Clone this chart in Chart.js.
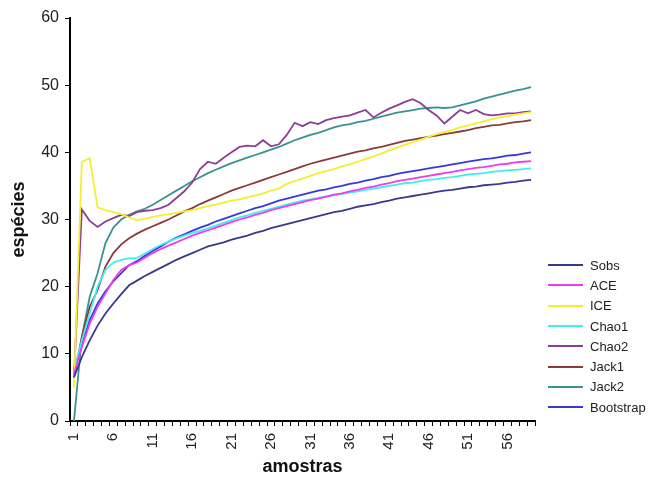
<!DOCTYPE html>
<html>
<head>
<meta charset="utf-8">
<script src="https://cdn.jsdelivr.net/npm/chart.js@4/dist/chart.umd.min.js"></script>
<style>
  body { margin: 0; background: #fff; }
  #wrap { position: relative; width: 660px; height: 479px; }
  #legenda { position: absolute; left: 548px; top: 255px; font: 13px "Liberation Sans", Arial, sans-serif; color: #222; }
  #legenda div { height: 20.3px; display: flex; align-items: center; }
  #legenda span.l { display: inline-block; width: 35px; height: 2px; margin-right: 7px; }
</style>
</head>
<body>
<div id="wrap">
  <canvas id="myChart" width="660" height="479"></canvas>
  <div id="legenda"></div>
</div>
<script>
const ctx = document.getElementById('myChart');
const fonte = '"Liberation Sans", Arial, sans-serif';

// amostras 1..59, rotulo a cada 5
const amostras = Array.from({ length: 59 }, (_, i) => String(i + 1));
const rotulos = ['1', '6', '11', '16', '21', '26', '31', '36', '41', '46', '51', '56'];
const ticksY = [0, 10, 20, 30, 40, 50, 60];

const nomes = ['Sobs', 'ACE', 'ICE', 'Chao1', 'Chao2', 'Jack1', 'Jack2', 'Bootstrap'];
const cores = ['#3a3a8c', '#f03cf0', '#f5ee30', '#40eef0', '#8e3d94', '#8b3a3a', '#3a9290', '#3838d8'];

const sobs = [6.5,9.5,12,14.2,16,17.5,18.9,20.2,20.9,21.6,
  22.2,22.8,23.4,24,24.5,25,25.5,26,26.3,26.6,
  27,27.3,27.6,28,28.3,28.7,29,29.3,29.6,29.9,
  30.2,30.5,30.8,31.1,31.3,31.6,31.9,32.1,32.3,32.6,
  32.8,33.1,33.3,33.5,33.7,33.9,34.1,34.3,34.4,34.6,
  34.8,34.9,35.1,35.2,35.3,35.5,35.6,35.8,35.9];
const ace = [7,11,14.5,17,19,21,22.5,23.2,23.6,24.3,
  25,25.6,26.1,26.6,27.1,27.6,28,28.4,28.8,29.2,
  29.6,30,30.3,30.7,31,31.4,31.7,32,32.3,32.6,
  32.9,33.1,33.4,33.7,33.9,34.2,34.4,34.7,34.9,35.2,
  35.4,35.7,35.9,36.1,36.3,36.5,36.7,36.9,37.1,37.3,
  37.5,37.7,37.8,38,38.2,38.3,38.5,38.6,38.7];
const ice = [5,38.6,39.1,31.8,31.4,31.1,30.8,30.3,29.9,30.1,
  30.4,30.6,30.8,31,31.2,31.4,31.7,32,32.2,32.5,
  32.8,33,33.3,33.6,33.9,34.3,34.6,35.3,35.7,36.1,
  36.5,36.9,37.2,37.5,37.9,38.2,38.6,39,39.4,39.8,
  40.3,40.7,41.1,41.5,41.9,42.3,42.7,43,43.3,43.7,
  44,44.3,44.6,44.9,45.2,45.4,45.6,45.8,46];
const chao1 = [7.5,12,16,20,22.5,23.6,24,24.2,24.3,24.9,
  25.6,26.2,26.7,27.2,27.6,28,28.3,28.7,29.1,29.5,
  29.9,30.3,30.6,31,31.3,31.6,31.9,32.2,32.5,32.8,
  33,33.2,33.4,33.6,33.8,34,34.2,34.4,34.6,34.8,
  35,35.2,35.4,35.5,35.7,35.9,36,36.2,36.3,36.5,
  36.7,36.8,36.9,37.1,37.2,37.3,37.4,37.5,37.6];
const chao2 = [6.5,31.5,29.8,28.9,29.7,30.2,30.7,30.5,31.1,31.3,
  31.4,31.7,32.2,33.2,34.2,35.5,37.5,38.6,38.3,39.2,
  40,40.8,41,40.9,41.8,40.9,41.2,42.6,44.4,43.9,
  44.5,44.2,44.8,45.1,45.3,45.5,45.9,46.3,45.2,45.9,
  46.5,47,47.5,47.9,47.3,46.3,45.5,44.3,45.3,46.3,
  45.8,46.3,45.7,45.5,45.6,45.8,45.8,46,46.1];
const jack1 = [6.5,12.5,17,19.5,23,25,26.3,27.2,27.9,28.5,
  29,29.5,30,30.6,31.2,31.7,32.3,32.8,33.3,33.8,
  34.3,34.7,35.1,35.5,35.9,36.3,36.7,37.1,37.5,37.9,
  38.3,38.6,38.9,39.2,39.5,39.8,40.1,40.3,40.6,40.8,
  41.1,41.4,41.7,41.9,42.1,42.3,42.5,42.7,42.9,43.1,
  43.3,43.6,43.8,44,44.1,44.3,44.5,44.6,44.8];
const jack2 = [0,12.5,18.5,22,26.5,28.8,30,30.7,31.2,31.6,
  32.2,32.9,33.6,34.3,35,35.7,36.3,36.9,37.4,37.9,
  38.4,38.8,39.2,39.6,40,40.4,40.8,41.3,41.8,42.2,
  42.6,42.9,43.3,43.7,44,44.2,44.5,44.7,45,45.3,
  45.6,45.9,46.1,46.3,46.5,46.6,46.7,46.6,46.7,47,
  47.3,47.6,48,48.3,48.6,48.9,49.2,49.4,49.7];
const bootstrap = [7.5,11.5,15,17.5,19.3,20.8,22,23.2,23.8,24.6,
  25.3,26,26.7,27.3,27.8,28.3,28.8,29.2,29.7,30.1,
  30.5,30.9,31.3,31.7,32,32.4,32.8,33.1,33.4,33.7,
  34,34.3,34.5,34.8,35,35.3,35.5,35.8,36,36.3,
  36.5,36.8,37,37.2,37.4,37.6,37.8,38,38.2,38.4,
  38.6,38.8,39,39.1,39.3,39.5,39.6,39.8,40];

const series = [sobs, ace, ice, chao1, chao2, jack1, jack2, bootstrap];

const datasets = nomes.map((nome, i) => ({
  label: nome,
  data: series[i],
  borderColor: cores[i],
  backgroundColor: cores[i],
  borderWidth: 1.8,
  pointRadius: 0,
  tension: 0,
  fill: false
}));

// legenda em html
const leg = document.getElementById('legenda');
nomes.forEach((nome, i) => {
  const d = document.createElement('div');
  d.innerHTML = '<span class="l" style="background:' + cores[i] + '"></span>' + nome;
  leg.appendChild(d);
});

new Chart(ctx, {
  type: 'line',
  data: { labels: amostras, datasets: datasets },
  options: {
    responsive: false,
    animation: false,
    layout: { padding: { left: 8, right: 125, top: 18, bottom: 0 } },
    plugins: { legend: { display: false }, tooltip: { enabled: false } },
    scales: {
      x: {
        type: 'category',
        offset: true,
        grid: { offset: true, drawOnChartArea: false, drawTicks: true, tickLength: 5, color: '#000', lineWidth: 1 },
        border: { color: '#000', width: 2 },
        ticks: {
          autoSkip: false, minRotation: 90, maxRotation: 90, padding: 7,
          color: '#222', font: { family: fonte, size: 15 },
          callback: function (v, i) { return rotulos.includes(amostras[i]) ? amostras[i] : ''; }
        },
        title: { display: true, text: 'amostras', color: '#111', font: { family: fonte, size: 18, weight: 'bold' }, padding: { top: 0, bottom: 1 } },
        afterFit: function (s) { s.height = 58; }
      },
      y: {
        min: 0, max: 60,
        afterBuildTicks: function (s) { s.ticks = ticksY.map(v => ({ value: v })); },
        grid: { drawOnChartArea: false, drawTicks: true, tickLength: 5, color: '#000', lineWidth: 1 },
        border: { color: '#000', width: 2 },
        ticks: { color: '#222', padding: 6, font: { family: fonte, size: 16 } },
        title: { display: true, text: 'espécies', color: '#111', font: { family: fonte, size: 18, weight: 'bold' }, padding: { top: 0, bottom: 0 } },
        afterFit: function (s) { s.width = 62; }
      }
    }
  }
});
</script>
</body>
</html>
